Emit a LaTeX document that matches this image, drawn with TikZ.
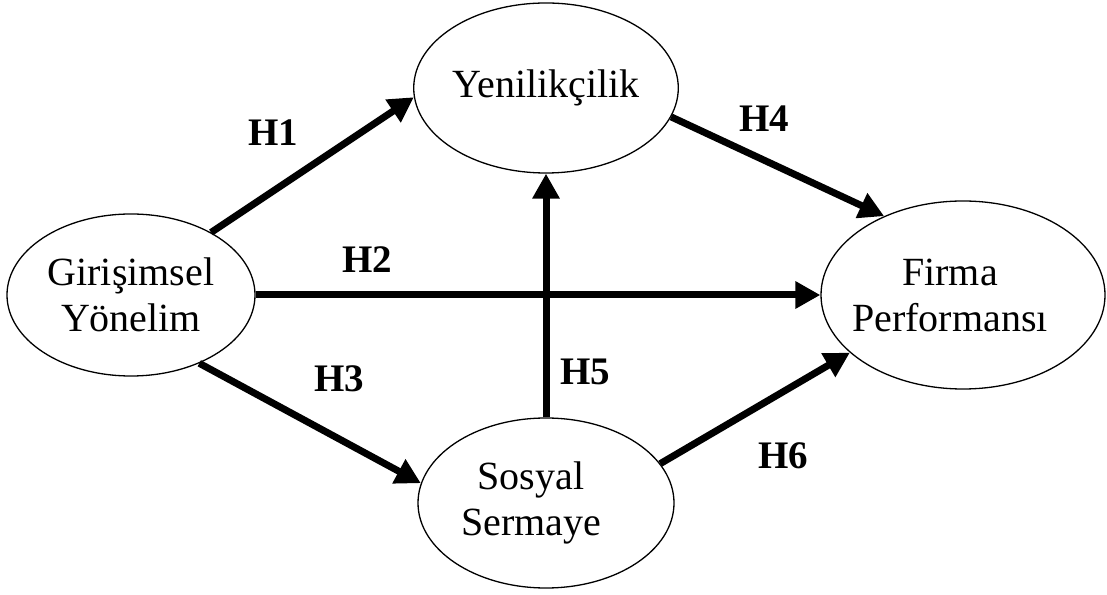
\documentclass[tikz,border=0pt]{standalone}
\usepackage{fontspec}
\setmainfont{Liberation Serif}
\usetikzlibrary{arrows.meta,shapes.geometric}
\begin{document}
\begin{tikzpicture}[x=1pt,y=1pt,
  construct/.style={ellipse, draw, line width=1.3pt, inner sep=0pt,
    align=center, font=\fontsize{40}{46}\selectfont},
  path/.style={line width=7pt, -{Triangle[length=25pt,width=26pt]}},
  hyp/.style={font=\fontsize{39}{44}\selectfont\bfseries}]
\useasboundingbox (0,0) rectangle (1107,594);

% constructs (a negative leading space nudges the text left of centre)
\node[construct, minimum width=246pt, minimum height=170pt] (yen) at (546,506) {Yenilikçilik};
\node[construct, minimum width=248pt, minimum height=162pt] (gir) at (131,299) {Girişimsel\\Yönelim};
\node[construct, minimum width=284pt, minimum height=188pt] (firma) at (963,299)
  {\hspace*{-26pt}Firma\\\hspace*{-26pt}Performansı};
\node[construct, minimum width=256pt, minimum height=170pt] (sos) at (546,91)
  {\hspace*{-30pt}Sosyal\\\hspace*{-30pt}Sermaye};

% hypothesised paths
\draw[path] (gir.38) -- (yen.184);
\draw[path] (gir.east) -- (firma.west);
\draw[path] (gir.-45) -- (sos.171);
\draw[path] (yen.-13) -- (firma.135);
\draw[path] (sos.north) -- (yen.south);
\draw[path] (sos.19) -- (firma.207);

% hypothesis labels
\node[hyp] (h1) at (273,461) {H1};
\node[hyp] (h2) at (367,334) {H2};
\node[hyp] (h3) at (339,215) {H3};
\node[hyp] (h4) at (764,475) {H4};
\node[hyp] (h5) at (585,222) {H5};
\node[hyp] (h6) at (783,138) {H6};
\end{tikzpicture}
\end{document}
